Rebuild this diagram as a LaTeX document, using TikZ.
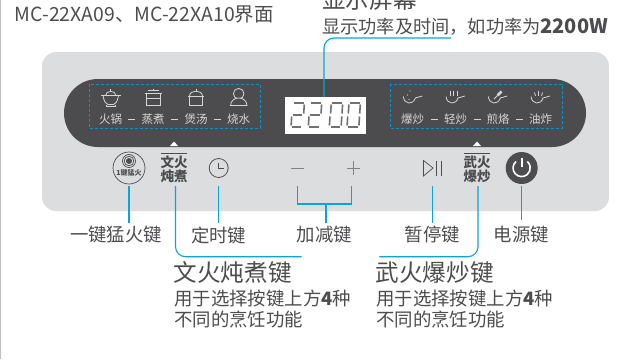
\documentclass[tikz,border=0pt]{standalone}
\usepackage{fontspec}
\setmainfont{Noto Sans CJK SC}
\definecolor{panelgray}{HTML}{DCDDDE}
\definecolor{banddark}{HTML}{4C4C4E}
\definecolor{textgray}{HTML}{4D4D4F}
\definecolor{icongray}{HTML}{D6D6D6}
\definecolor{keyblue}{HTML}{0BA3DC}
\definecolor{dashblue}{HTML}{0A93C8}
\tikzset{
  keyline/.style={draw=keyblue, line width=1.1pt, rounded corners=10pt},
  dashbox/.style={draw=dashblue, line width=0.8pt, densely dashed},
  icon/.style={draw=icongray, line width=0.8pt},
  btnline/.style={draw=textgray, line width=0.7pt},
  modetext/.style={text=icongray, font=\fontsize{11.5}{12}\selectfont, inner sep=0pt},
  keytext/.style={text=textgray, font=\fontsize{18.4}{20}\selectfont, inner sep=0pt},
  bigtext/.style={text=textgray, font=\fontsize{23.6}{25}\selectfont, inner sep=0pt},
  btntext/.style={text=textgray, font=\fontsize{13.5}{13.5}\selectfont\bfseries, inner sep=0pt, align=center},
}
\begin{document}
\begin{tikzpicture}[x=1pt,y=-1pt]
\useasboundingbox (0,0) rectangle (642,359);
\fill[white](0,0) rectangle (642,359);
\fill[black!25](0,0) rectangle (1,359);
%------------------ panel
\fill[panelgray, rounded corners=14pt](42,52) rectangle (609,211);
\fill[banddark, rounded corners=33.9pt](64,79) rectangle (586,147);
\draw[dashbox](89,84) rectangle (260,128);
\draw[dashbox](390,84) rectangle (562,128);
\fill[white](285,97) rectangle (366,134);
%------------------ display digits
\foreach \ox in {290.7,308}{
  \foreach \xa/\ya/\xb/\yb in {3/0/13/0, 13.6/1.5/13/10.5, 2/12/11.5/12, 1/13.5/0.4/22.5, 1/24/10.5/24}{
    \draw[textgray!80, line width=1.6pt](\ox+\xa,103+\ya)--(\ox+\xb,103+\yb);
  }
}
\foreach \ox in {329,346.7}{
  \foreach \xa/\ya/\xb/\yb in {3/0/13/0, 13.6/1.5/13/10.5, 12.8/13.5/12.2/22.5, 1.5/24/11/24, 1/13.5/0.4/22.5, 2.2/1.5/1.6/10.5}{
    \draw[textgray!80, line width=1.6pt](\ox+\xa,103+\ya)--(\ox+\xb,103+\yb);
  }
}
%------------------ mode labels
\foreach \px/\txt [count=\i] in {110.5/火锅,153/蒸煮,196/煲汤,238.5/烧水,412.5/爆炒,455.5/轻炒,498/煎烙,540.5/油炸}{
  \node[modetext] (mode\i) at (\px,119) {\txt};
}
\foreach \px in {131.5,174.5,217.5,434,477,519.5}{
  \draw[icon](\px-3.5,119)--(\px+3.5,119);
}
%------------------ mode icons, left
\draw[icon](101,95.5)--(120.5,95.5);
\draw[icon](103,95.5) .. controls (104,102) and (106,104) .. (108,104.5) -- (113.5,104.5) .. controls (115.5,104) and (117.5,102) .. (118.5,95.5);
\draw[icon](106,104.5)--(106,106.5)--(115.5,106.5)--(115.5,104.5);
\draw[icon](105.5,95.5) .. controls (106,90) and (115.5,90) .. (116,95.5);
\draw[icon](110.7,88.5)--(110.7,90.5);
\draw[icon](148,90)--(159,90);
\draw[icon](153.3,88.5)--(153.3,90);
\draw[icon](145,93.5)--(162,93.5);
\draw[icon](146.5,93.5)--(146.5,105.5)--(160.5,105.5)--(160.5,93.5);
\draw[icon](146.5,98)--(160.5,98);
\draw[icon](196,88.5)--(196,90.5);
\draw[icon](187.7,96)--(204.3,96);
\draw[icon](189.5,96) .. controls (190,89.5) and (202,89.5) .. (202.5,96);
\draw[icon](189.5,96)--(189.5,105.5)--(202.5,105.5)--(202.5,96);
\draw[icon](238.7,93.7) circle[radius=5.3];
\draw[icon, fill=banddark](230.5,105.5) .. controls (231,95.5) and (246.5,95.5) .. (247,105.5) -- cycle;
%------------------ mode icons, right
\foreach \px in {403.3,446,488.3,531}{
  \draw[icon](\px,96.5) .. controls (\px+1,105) and (\px+10,105) .. (\px+12,98) -- (\px+19,96);
}
\fill[icongray](410,91) circle[radius=0.7];
\fill[icongray](407.5,95) circle[radius=0.7];
\fill[icongray](409,99.5) circle[radius=0.7];
\foreach \px in {450,453.5,457}{
  \draw[icon](\px,91)--(\px,96);
}
\draw[icon, line width=2.6pt](497.5,95.5)--(501.5,91.5);
\draw[icon](494,99)--(497.5,95.5);
\foreach \ax/\ay/\bx/\by in {534.5/92.5/535.5/96, 538.5/90.5/538.5/95.5, 542.5/92.5/541.5/96}{
  \draw[icon](\ax,\ay)--(\bx,\by);
}
%------------------ buttons
\foreach \px in {174,477}{
  \fill[white](\px-4,146)--(\px+4,146)--(\px,141.5)--cycle;
  \draw[btnline](\px-13,153)--(\px+13,153);
}
\node[draw=textgray, line width=0.7pt, circle, minimum size=32pt, inner sep=0pt] (boost) at (129,168) {};
\draw[btnline](129,161) circle[radius=6.5];
\draw[btnline](129,161) circle[radius=4.8];
\fill[textgray](129,161) circle[radius=3];
\node[text=textgray, font=\fontsize{7}{7}\selectfont\bfseries, inner sep=0pt] (boosttext) at (129,173) {1键猛火};
\node[btntext] (wenhuo) at (174,169.5) {文火\\炖煮};
\node[draw=textgray, line width=0.8pt, circle, minimum size=19pt, inner sep=0pt] (timer) at (218.7,168) {};
\draw[btnline](218.7,162.5)--(218.7,168.5)--(224,168.5);
\coordinate (minus) at (297.5,168);
\coordinate (plus) at (353.5,168);
\draw[draw=textgray!70, line width=0.8pt]([xshift=-6.5pt]minus)--([xshift=6.5pt]minus);
\draw[draw=textgray!70, line width=0.8pt]([xshift=-6.5pt]plus)--([xshift=6.5pt]plus);
\draw[draw=textgray!70, line width=0.8pt]([yshift=-7pt]plus)--([yshift=7pt]plus);
\coordinate (pause) at (432.3,168);
\draw[btnline](423.5,160.5)--(433,168)--(423.5,176)--cycle;
\draw[btnline](436.3,160.5)--(436.3,176);
\draw[btnline](441,160.5)--(441,176);
\node[btntext] (wuhuo) at (477,169.5) {武火\\爆炒};
\node[fill=textgray, circle, minimum size=32pt, inner sep=0pt] (power) at (521.7,168) {};
\draw[white, line width=1.6pt](516,161.5) arc[start angle=229, end angle=-49, radius=8.6];
\draw[white, line width=1.6pt](521.7,158)--(521.7,167);
%------------------ texts
\node[anchor=west, text=textgray, font=\fontsize{19.4}{20}\selectfont, inner sep=0pt] (title) at (14.5,14.5) {MC-22XA09、MC-22XA10界面};
\node[anchor=west, bigtext] (showname) at (322,0) {显示屏幕};
\node[anchor=west, keytext, font=\fontsize{18.2}{20}\selectfont] (showdesc) at (322,27) {显示功率及时间，如功率为{\fontsize{20}{20}\selectfont\bfseries 2200W}};
\node[keytext] (boostlbl) at (116,235) {一键猛火键};
\node[keytext] (timerlbl) at (218.7,235) {定时键};
\node[keytext] (pluslbl) at (324.5,235) {加减键};
\node[keytext] (pauselbl) at (432.5,235) {暂停键};
\node[keytext] (powerlbl) at (521.5,235) {电源键};
\node[anchor=west, bigtext] (wenname) at (173.5,273) {文火炖煮键};
\node[anchor=west, keytext] (wenline) at (174,298) {用于选择按键上方{\bfseries 4}种};
\node[anchor=west, keytext] (wenlast) at (174,319) {不同的烹饪功能};
\node[anchor=west, bigtext] (wuname) at (375.5,273) {武火爆炒键};
\node[anchor=west, keytext] (wuline) at (376,298) {用于选择按键上方{\bfseries 4}种};
\node[anchor=west, keytext] (wulast) at (376,319) {不同的烹饪功能};
%------------------ connectors
\coordinate (T) at (0,186);
\coordinate (B) at (0,223);
\coordinate (Lturn) at (175.5,256.7);
\coordinate (Rturn) at (478,256.7);
\coordinate (Lend) at (301.7,256.7);
\coordinate (Rend) at (379.3,256.7);
\coordinate (Sturn) at (324,38);
\coordinate (Send) at (451,38);
\coordinate (Bar) at (326,204);
\draw[keyline](boost |- T)--(boost |- B);
\draw[keyline](timer |- T)--(timer |- B);
\draw[keyline](pause |- T)--(pause |- B);
\draw[keyline](power |- T)--(power |- 0,220);
\draw[keyline](Send)--(Sturn)--(324,97);
\draw[keyline](175.5,186)--(Lturn)--(Lend);
\draw[keyline](478,186)--(Rturn)--(Rend);
\draw[keyline, rounded corners=0pt](297.3,186)--(297.3,204)--(351.7,204)--(351.7,186);
\draw[keyline](Bar)--(Bar |- B);
\end{tikzpicture}
\end{document}
